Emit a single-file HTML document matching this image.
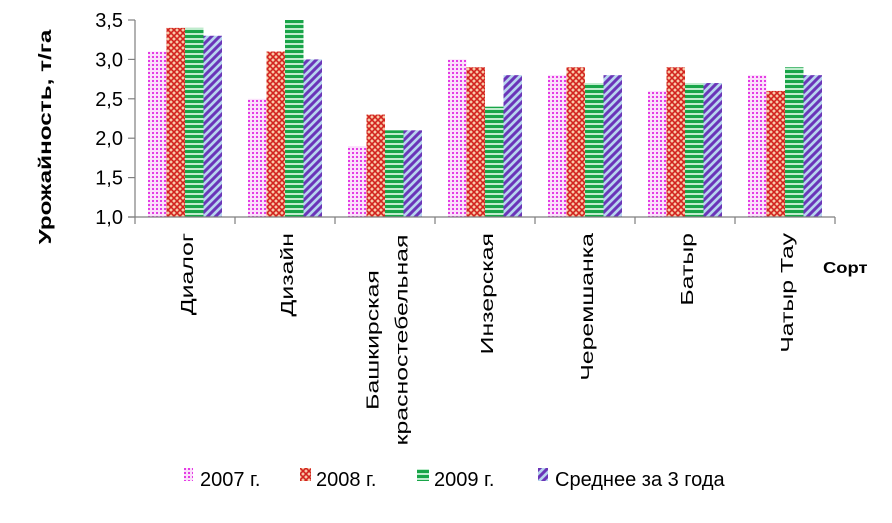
<!DOCTYPE html>
<html><head><meta charset="utf-8"><style>
body{margin:0;background:#fff;}
svg{display:block;font-family:"Liberation Sans","DejaVu Sans",sans-serif;}
</style></head><body>
<svg id="chart" width="892" height="523" viewBox="0 0 892 523">
<defs>
<pattern id="p2007" width="4" height="4" patternUnits="userSpaceOnUse"><rect width="4" height="4" fill="#fbe0fb"/><rect x="0" y="0" width="2" height="2" fill="#e43ce4"/></pattern>
<pattern id="p2008" width="6" height="6" patternUnits="userSpaceOnUse"><rect width="6" height="6" fill="#f9c9a8"/><path d="M0 0L6 6M6 0L0 6" stroke="#d2231e" stroke-width="1.6"/></pattern>
<pattern id="p2009" width="6" height="5" patternUnits="userSpaceOnUse"><rect width="6" height="5" fill="#bfeccd"/><rect width="6" height="3" fill="#18a548"/></pattern>
<pattern id="pavg" width="8" height="8" patternUnits="userSpaceOnUse"><rect width="8" height="8" fill="#b7d5ee"/><path d="M-2 10L10 -2M-2 2L2 -2M6 10L10 6" stroke="#6b35b8" stroke-width="3"/></pattern>
</defs>
<g id="bars"></g>
<g id="axes"></g>
<text transform="translate(51,137) rotate(-90) scale(1.35,1)" text-anchor="middle" font-size="18" font-weight="bold" fill="#000">Урожайность, т/га</text>
<text transform="translate(823,273) scale(1.15,1)" font-size="16" font-weight="bold">Сорт</text>
<g font-size="20">
<g><rect x="184" y="468" width="9" height="13" fill="url(#p2007)"/><text x="200" y="486">2007 г.</text></g>
<g><rect x="300" y="468" width="11" height="13" fill="url(#p2008)"/><text x="316" y="486">2008 г.</text></g>
<g><rect x="417" y="469" width="12" height="12" fill="url(#p2009)"/><text x="434" y="486">2009 г.</text></g>
<g><rect x="538" y="468" width="10" height="13" fill="url(#pavg)"/><text x="555" y="486">Среднее за 3 года</text></g>
</g>
</svg>
<script>
const categories=[["Диалог"],["Дизайн"],["Башкирская","красностебельная"],["Инзерская"],["Черемшанка"],["Батыр"],["Чатыр Тау"]];
const s2007=[3.1,2.5,1.9,3.0,2.8,2.6,2.8];
const s2008=[3.4,3.1,2.3,2.9,2.9,2.9,2.6];
const s2009=[3.4,3.5,2.1,2.4,2.7,2.7,2.9];
const sAvg=[3.3,3.0,2.1,2.8,2.8,2.7,2.8];
const yTicks=[1.0,1.5,2.0,2.5,3.0,3.5];
const yTickLabels=["1,0","1,5","2,0","2,5","3,0","3,5"];
const NS="http://www.w3.org/2000/svg";
const x0=135,gw=100,y0=217,yTop=20,ymin=1,ymax=3.5;
const Y=v=>y0-(v-ymin)/(ymax-ymin)*(y0-yTop);
const X=i=>x0+i*gw;
const bars=document.getElementById('bars'),axes=document.getElementById('axes');
function mk(t,a,p){const e=document.createElementNS(NS,t);for(const k in a)e.setAttribute(k,a[k]);p.appendChild(e);return e;}
const series=[[s2007,"url(#p2007)","2007"],[s2008,"url(#p2008)","2008"],[s2009,"url(#p2009)","2009"],[sAvg,"url(#pavg)","avg"]];
const bw=18.5,off=13;
categories.forEach((c,i)=>{
  series.forEach((s,j)=>{
    const v=s[0][i];
    const r=mk('rect',{x:X(i)+off+j*bw,y:Y(v),width:bw,height:y0-Y(v),fill:s[1]},bars);
    
    
  });
  const lines=c.length, cx=X(i)+gw/2+2;
  c.forEach((l,k)=>{
    const lx=cx+(k-(lines-1)/2)*29+6;
    let tr;
    if(lines>1) tr=`translate(${lx},340) rotate(-90) scale(1.38,1)`;
    else tr=`translate(${lx},233) rotate(-90) scale(1.38,1)`;
    const t=mk('text',{transform:tr,'text-anchor':lines>1?'middle':'end','font-size':'18'},axes);
    t.textContent=l;
    
    
  });
});
for(let i=0;i<=categories.length;i++){
  const t=mk('line',{x1:X(i),x2:X(i),y1:y0,y2:y0+7,stroke:'#7f7f7f','stroke-width':1.2},axes);
  
  
}
yTicks.forEach((v,i)=>{
  const l=mk('line',{x1:x0-7,x2:x0,y1:Y(v),y2:Y(v),stroke:'#7f7f7f','stroke-width':1.2},axes);
  
  
  const t=mk('text',{x:x0-12,y:Y(v)+7,'text-anchor':'end','font-size':'20'},axes);
  t.textContent=yTickLabels[i];
  
  
});
const ya=mk('line',{x1:x0,x2:x0,y1:yTop,y2:y0,stroke:'#7f7f7f','stroke-width':1.2},axes);


const xa=mk('line',{x1:x0-7,x2:X(categories.length),y1:y0,y2:y0,stroke:'#7f7f7f','stroke-width':1.2},axes);


</script>
</body></html>
